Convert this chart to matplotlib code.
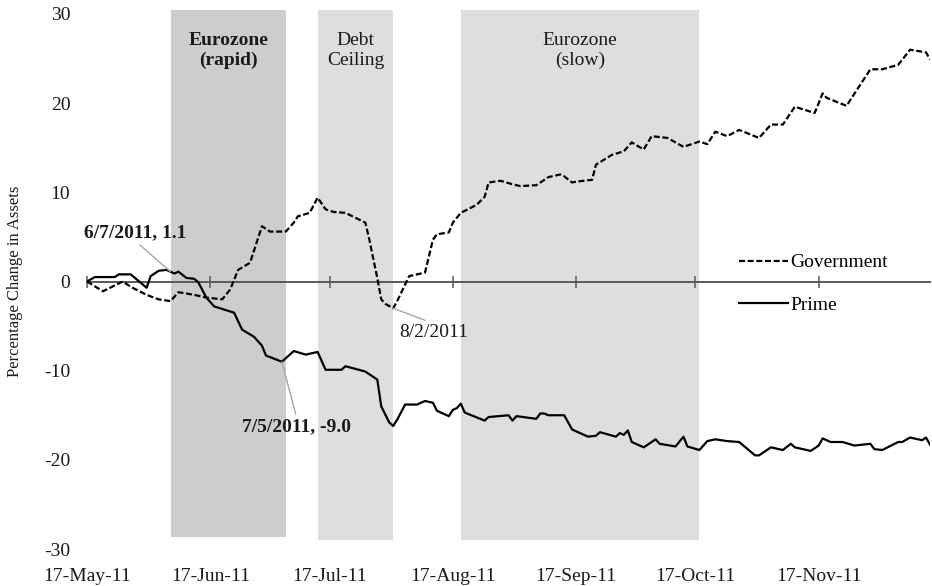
import matplotlib
matplotlib.use("Agg")
import matplotlib.pyplot as plt
import pandas as pd

plt.rcParams["font.family"] = ["Liberation Serif", "DejaVu Serif"]

# ---------------- data ----------------
gov_dates = ["2011-05-17", "2011-05-21", "2011-05-26", "2011-05-28", "2011-06-01", "2011-06-04",
             "2011-06-07", "2011-06-09", "2011-06-13", "2011-06-16", "2011-06-20", "2011-06-22",
             "2011-06-24", "2011-06-27", "2011-06-30", "2011-07-02", "2011-07-06", "2011-07-08",
             "2011-07-09", "2011-07-12", "2011-07-14", "2011-07-16", "2011-07-18", "2011-07-21",
             "2011-07-26", "2011-07-27", "2011-07-29", "2011-07-30", "2011-07-31", "2011-08-02",
             "2011-08-03", "2011-08-06", "2011-08-08", "2011-08-10", "2011-08-12", "2011-08-13",
             "2011-08-16", "2011-08-17", "2011-08-19", "2011-08-23", "2011-08-25", "2011-08-26",
             "2011-08-29", "2011-09-01", "2011-09-03", "2011-09-07", "2011-09-10", "2011-09-13",
             "2011-09-14", "2011-09-16", "2011-09-17", "2011-09-21", "2011-09-22", "2011-09-26",
             "2011-09-29", "2011-10-01", "2011-10-04", "2011-10-06", "2011-10-10", "2011-10-14",
             "2011-10-18", "2011-10-20", "2011-10-22", "2011-10-25", "2011-10-28", "2011-11-02",
             "2011-11-05", "2011-11-08", "2011-11-11", "2011-11-16", "2011-11-18", "2011-11-19",
             "2011-11-24", "2011-11-30", "2011-12-03", "2011-12-07", "2011-12-10", "2011-12-14",
             "2011-12-15"]
gov_values = [0.0, -1.1, 0.0, -0.6, -1.5, -2.0,
              -2.2, -1.2, -1.5, -1.8, -2.0, -0.9,
              1.3, 2.1, 6.2, 5.6, 5.6, 6.6,
              7.3, 7.7, 9.4, 8.1, 7.8, 7.7,
              6.6, 4.7, 0.4, -2.0, -2.5, -3.0,
              -2.2, 0.6, 0.8, 1.0, 4.7, 5.3,
              5.5, 6.6, 7.7, 8.6, 9.5, 11.1,
              11.3, 10.9, 10.7, 10.8, 11.7, 12.0,
              11.8, 11.1, 11.2, 11.4, 13.1, 14.2,
              14.6, 15.6, 14.8, 16.3, 16.1, 15.1,
              15.7, 15.4, 16.8, 16.3, 17.0, 16.1,
              17.6, 17.6, 19.6, 18.9, 21.1, 20.6,
              19.7, 23.8, 23.8, 24.3, 26.0, 25.7,
              24.9]

prime_dates = ["2011-05-17", "2011-05-19", "2011-05-24", "2011-05-25", "2011-05-28", "2011-06-01",
               "2011-06-02", "2011-06-04", "2011-06-06", "2011-06-07", "2011-06-08", "2011-06-09",
               "2011-06-11", "2011-06-13", "2011-06-14", "2011-06-16", "2011-06-18", "2011-06-23",
               "2011-06-25", "2011-06-28", "2011-06-30", "2011-07-01", "2011-07-05", "2011-07-08",
               "2011-07-11", "2011-07-14", "2011-07-16", "2011-07-20", "2011-07-21", "2011-07-26",
               "2011-07-29", "2011-07-30", "2011-08-01", "2011-08-02", "2011-08-03", "2011-08-05",
               "2011-08-08", "2011-08-10", "2011-08-12", "2011-08-13", "2011-08-16", "2011-08-17",
               "2011-08-18", "2011-08-19", "2011-08-20", "2011-08-25", "2011-08-26", "2011-08-31",
               "2011-09-01", "2011-09-02", "2011-09-07", "2011-09-08", "2011-09-09", "2011-09-10",
               "2011-09-14", "2011-09-16", "2011-09-20", "2011-09-22", "2011-09-23", "2011-09-27",
               "2011-09-28", "2011-09-29", "2011-09-30", "2011-10-01", "2011-10-04", "2011-10-05",
               "2011-10-07", "2011-10-08", "2011-10-12", "2011-10-14", "2011-10-15", "2011-10-18",
               "2011-10-20", "2011-10-22", "2011-10-25", "2011-10-28", "2011-11-01", "2011-11-02",
               "2011-11-05", "2011-11-08", "2011-11-10", "2011-11-11", "2011-11-15", "2011-11-17",
               "2011-11-18", "2011-11-20", "2011-11-23", "2011-11-26", "2011-11-30", "2011-12-01",
               "2011-12-03", "2011-12-07", "2011-12-08", "2011-12-10", "2011-12-13", "2011-12-14",
               "2011-12-15"]
prime_values = [0.0, 0.5, 0.5, 0.8, 0.8, -0.7,
                0.6, 1.2, 1.3, 1.1, 0.9, 1.1,
                0.4, 0.3, -0.1, -1.8, -2.8, -3.5,
                -5.4, -6.2, -7.2, -8.3, -9.0, -7.8,
                -8.2, -7.9, -9.9, -9.9, -9.5, -10.1,
                -11.0, -14.0, -15.8, -16.2, -15.5, -13.8,
                -13.8, -13.4, -13.6, -14.5, -15.1, -14.4,
                -14.2, -13.7, -14.7, -15.6, -15.2, -15.0,
                -15.6, -15.1, -15.4, -14.8, -14.8, -15.0,
                -15.0, -16.6, -17.4, -17.3, -16.9, -17.4,
                -17.0, -17.2, -16.7, -18.0, -18.6, -18.3,
                -17.7, -18.2, -18.5, -17.4, -18.5, -18.9,
                -17.9, -17.7, -17.9, -18.0, -19.5, -19.5,
                -18.6, -18.9, -18.2, -18.6, -19.0, -18.4,
                -17.6, -18.0, -18.0, -18.4, -18.2, -18.8,
                -18.9, -18.0, -18.0, -17.5, -17.8, -17.5,
                -18.3]

band_labels = ["Eurozone\n(rapid)", "Debt\nCeiling", "Eurozone\n(slow)"]
band_starts = ["2011-06-07", "2011-07-14", "2011-08-19"]
band_ends = ["2011-07-06", "2011-08-02", "2011-10-18"]
band_bottoms = [-28.6, -29.0, -29.0]
band_top = 30.5

tick_dates = ["2011-05-17", "2011-06-17", "2011-07-17", "2011-08-17",
              "2011-09-17", "2011-10-17", "2011-11-17"]
tick_labels = ["17-May-11", "17-Jun-11", "17-Jul-11", "17-Aug-11",
               "17-Sep-11", "17-Oct-11", "17-Nov-11"]
y_ticks = [-30, -20, -10, 0, 10, 20, 30]

note_dates = ["2011-06-07", "2011-07-05", "2011-08-02"]
note_values = [1.1, -9.0, -3.0]
note_texts = ["6/7/2011, 1.1", "7/5/2011, -9.0", "8/2/2011"]

x_start, x_end = "2011-05-17", "2011-12-15"

# ---------------- figure ----------------
W, H = 932, 586
fig = plt.figure(figsize=(W / 100, H / 100), dpi=100)
ax = fig.add_axes([87 / W, 1 - 549 / H, 843 / W, 535 / H])

band_colors = ["#cdcdcd", "#dedede", "#dedede"]
band_weights = ["bold", "normal", "normal"]
for lab, s, e, b, c, w in zip(band_labels, band_starts, band_ends, band_bottoms,
                              band_colors, band_weights):
    s, e = pd.Timestamp(s), pd.Timestamp(e)
    ax.fill_between([s, e], [b, b], [band_top, band_top], color=c, lw=0,
                    zorder=0, clip_on=False)
    ax.text(s + (e - s) / 2, 25.9, lab, ha="center", va="center",
            fontsize=14, fontweight=w, color="#1a1a1a", zorder=1)

gd = pd.to_datetime(gov_dates)
pdt = pd.to_datetime(prime_dates)
ax.plot(gd, gov_values, color="black", lw=1.6, dashes=(2.7, 1.2),
        label="Government", zorder=3)
ax.plot(pdt, prime_values, color="black", lw=1.6, label="Prime", zorder=3)

ax.set_xlim(pd.Timestamp(x_start), pd.Timestamp(x_end))
ax.set_ylim(-30, 30)

for sp in ["left", "right", "top"]:
    ax.spines[sp].set_visible(False)
ax.spines["bottom"].set_position(("data", 0))
ax.spines["bottom"].set_color("#595959")
ax.spines["bottom"].set_linewidth(1.4)
ax.spines["bottom"].set_zorder(2)

ax.set_xticks(pd.to_datetime(tick_dates))
ax.tick_params(axis="x", direction="inout", length=8, width=1.1,
               color="#595959", labelbottom=False)
ax.set_yticks(y_ticks)
ax.set_yticklabels([str(v) for v in y_ticks])
ax.tick_params(axis="y", length=0, pad=12, labelsize=14, labelcolor="#1a1a1a")

sec = ax.secondary_xaxis(0.0)
sec.set_xticks(pd.to_datetime(tick_dates))
sec.set_xticklabels(tick_labels)
sec.tick_params(axis="x", length=0, pad=14, labelsize=14, labelcolor="#1a1a1a")
sec.spines["bottom"].set_visible(False)

ax.set_ylabel("Percentage Change in Assets", fontsize=12, color="#1a1a1a")
ax.yaxis.set_label_coords((23 - 87) / 843, 0.5)

# annotations
offsets = [(-35, 39), (15, -65), (41, -24)]
relpos = [(0.5, 0.0), (0.5, 1.0), (0.5, 1.0)]
weights = ["bold", "bold", "normal"]
for d, v, t, off, rp, w in zip(note_dates, note_values, note_texts, offsets, relpos, weights):
    ax.annotate(t, xy=(pd.Timestamp(d), v), xytext=off, textcoords="offset pixels",
                ha="center", va="center", fontsize=14, fontweight=w, color="#1a1a1a",
                arrowprops=dict(arrowstyle="-", color="#a6a6a6", lw=1.0,
                                relpos=rp, shrinkA=1, shrinkB=0),
                zorder=4)

ax.legend(loc="center left", bbox_to_anchor=(739 / W, 1 - 284 / H),
          bbox_transform=fig.transFigure, frameon=False, fontsize=14,
          handlelength=2.5, handletextpad=0.15, labelspacing=1.3,
          borderpad=0, borderaxespad=0)

fig.savefig("out.png", dpi=100)
